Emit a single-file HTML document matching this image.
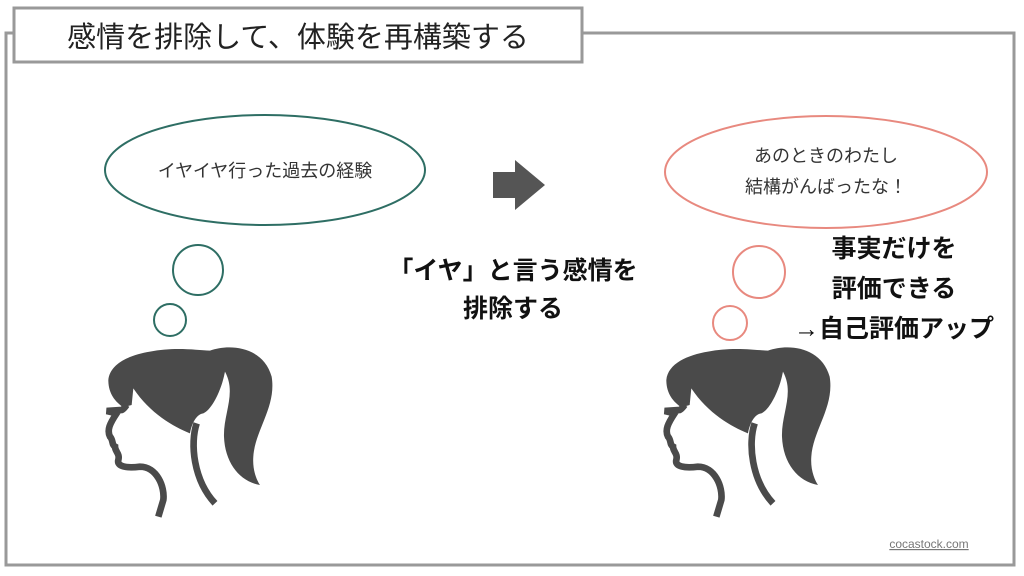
<!DOCTYPE html>
<html><head><meta charset="utf-8"><style>
html,body{margin:0;padding:0;background:#fff;}
body{width:1024px;height:576px;overflow:hidden;position:relative;}
svg{position:absolute;left:0;top:0;}
text{font-family:"Liberation Sans","Noto Sans CJK JP",sans-serif;}
</style></head><body>
<svg width="1024" height="576" viewBox="0 0 1024 576">
<rect x="6" y="33" width="1008" height="532" fill="none" stroke="#999" stroke-width="3"/>
<rect x="14" y="8" width="568" height="54" fill="#fff" stroke="#999" stroke-width="3"/>
<text x="298" y="47" font-size="29" text-anchor="middle" fill="#222">感情を排除して、体験を再構築する</text>

<ellipse cx="265" cy="170" rx="160" ry="55" fill="none" stroke="#2e6e64" stroke-width="2"/>
<text x="265" y="177" font-size="18" text-anchor="middle" fill="#333">イヤイヤ行った過去の経験</text>
<circle cx="198" cy="270" r="25" fill="none" stroke="#2e6e64" stroke-width="2"/>
<circle cx="170" cy="320" r="16" fill="none" stroke="#2e6e64" stroke-width="2"/>

<ellipse cx="826" cy="172" rx="161" ry="56" fill="none" stroke="#e8897f" stroke-width="2"/>
<text x="826" y="162" font-size="18" text-anchor="middle" fill="#333">あのときのわたし</text>
<text x="826" y="193" font-size="18" text-anchor="middle" fill="#333">結構がんばったな！</text>
<circle cx="759" cy="272" r="26" fill="none" stroke="#e8897f" stroke-width="2"/>
<circle cx="730" cy="323" r="17" fill="none" stroke="#e8897f" stroke-width="2"/>

<path d="M493,172 H515 V160 L545,185 L515,210 V198 H493 Z" fill="#555"/>

<g font-size="25" font-weight="bold" fill="#111" text-anchor="middle">
<text x="513" y="279">「イヤ」と言う感情を</text>
<text x="513" y="317">排除する</text>
<text x="894" y="257">事実だけを</text>
<text x="894" y="297">評価できる</text>
<text x="894" y="337">→自己評価アップ</text>
</g>

<g id="head" transform="translate(90,330) scale(0.3333)">
<path d="M55,150 C60,100 120,75 180,65 C250,50 320,60 360,62 C420,40 520,50 545,140 C560,230 495,300 490,380 C487,420 500,450 510,465 C450,455 405,400 402,320 C400,250 440,190 405,125 C395,180 365,240 340,250 C320,252 305,280 300,310 C250,290 180,250 130,175 L125,225 L100,232 C75,215 55,190 55,150 Z" fill="#4a4a4a"/>
<path d="M110,225 C105,232 100,238 95,240 L50,243 L80,250 C60,280 50,300 60,320 C70,330 65,345 75,350 C75,365 90,370 85,390 C80,410 110,415 150,410 C200,410 225,470 220,510 L205,560" fill="none" stroke="#4a4a4a" stroke-width="20"/>
<path d="M320,280 C300,340 310,450 375,520" fill="none" stroke="#4a4a4a" stroke-width="20"/>
</g>
<use href="#head" transform="translate(558,0)"/>

<text x="929" y="548" font-size="12" text-anchor="middle" fill="#777" text-decoration="underline">cocastock.com</text>
</svg>
</body></html>
